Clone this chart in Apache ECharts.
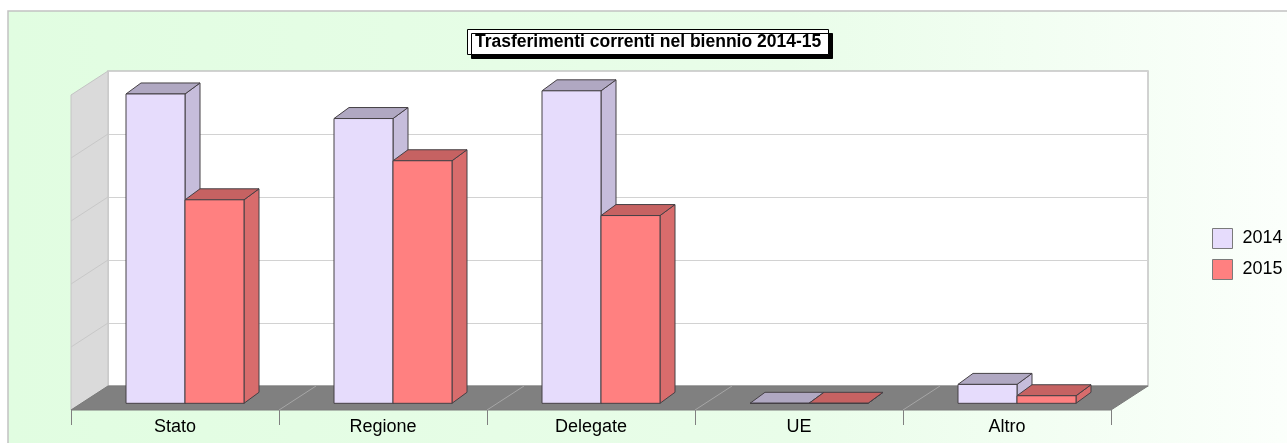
<!DOCTYPE html>
<html>
<head>
<meta charset="utf-8">
<title>Trasferimenti correnti nel biennio 2014-15</title>
<script src="https://cdn.jsdelivr.net/npm/echarts@6/dist/echarts.min.js"></script>
<style>
  html, body { margin: 0; padding: 0; background: #ffffff; }
  #chart { width: 1287px; height: 443px; }
</style>
</head>
<body>
<div id="chart"></div>
<script>
// Categories and yearly values (grid units)
const categories = ['Stato', 'Regione', 'Delegate', 'UE', 'Altro'];
const years = ['2014', '2015'];
const values2014 = [4.91, 4.52, 4.96, 0, 0.30];
const values2015 = [3.23, 3.85, 2.98, 0, 0.12];
const axisMax = 5;
const axisStep = 1;

// Face colours of the 3D bars: front, top, side
const faces = {
  '2014': { front: '#e6dcfc', top: '#b0a8c2', side: '#c6bddb' },
  '2015': { front: '#ff8080', top: '#c66262', side: '#d86c6c' }
};

// Depth of the scene (front floor edge to back wall) and of each bar
const SCENE_DEPTH = [37, -24];
const BAR_DEPTH = [15, -11];
const BAR_INSET = [10, -6.7];      // front face of the bars sits slightly behind the floor edge
const BAR_FRACTION = 59 / 208;     // bar width relative to category width

const chart = echarts.init(document.getElementById('chart'));

function renderFrame(params, api) {
  const cs = params.coordSys;
  const dx = SCENE_DEPTH[0], dy = SCENE_DEPTH[1];
  const x0 = cs.x, x1 = cs.x + cs.width;
  const yTop = cs.y, yBot = cs.y + cs.height;
  const children = [];
  // left side wall
  children.push({
    type: 'polygon',
    shape: { points: [[x0, yBot], [x0, yTop], [x0 + dx, yTop + dy], [x0 + dx, yBot + dy]] },
    style: { fill: '#dadada', stroke: '#c4c4c4', lineWidth: 1 }
  });
  // grid lines running across the side wall
  for (let v = axisStep; v < axisMax; v += axisStep) {
    const y = api.coord([0, v])[1];
    children.push({
      type: 'line',
      shape: { x1: x0, y1: y, x2: x0 + dx, y2: y + dy },
      style: { stroke: '#c8c8c8', lineWidth: 1 }
    });
  }
  // floor
  children.push({
    type: 'polygon',
    shape: { points: [[x0, yBot], [x0 + dx, yBot + dy], [x1 + dx, yBot + dy], [x1, yBot]] },
    style: { fill: '#808080', stroke: '#7a7a7a', lineWidth: 1 }
  });
  // category separators on the floor
  const band = cs.width / categories.length;
  for (let i = 1; i < categories.length; i++) {
    const xb = x0 + band * i;
    children.push({
      type: 'line',
      shape: { x1: xb, y1: yBot, x2: xb + dx, y2: yBot + dy },
      style: { stroke: '#a6a6a6', lineWidth: 1 }
    });
  }
  return { type: 'group', children: children };
}

function makeBarRenderer(yearIndex) {
  const col = faces[years[yearIndex]];
  return function (params, api) {
    const cat = api.value(0);
    const val = api.value(1);
    const base = api.coord([cat, 0]);
    const top = api.coord([cat, val]);
    const bw = api.size([1, 0])[0] * BAR_FRACTION;
    const xl = base[0] - bw + yearIndex * bw + BAR_INSET[0];
    const xr = xl + bw;
    const yb = base[1] + BAR_INSET[1];
    const yt = top[1] + BAR_INSET[1];
    const ddx = BAR_DEPTH[0], ddy = BAR_DEPTH[1];
    const stroke = { stroke: '#454045', lineWidth: 1, lineJoin: 'round' };
    return {
      type: 'group',
      children: [
        {
          type: 'polygon',
          shape: { points: [[xr, yt], [xr + ddx, yt + ddy], [xr + ddx, yb + ddy], [xr, yb]] },
          style: Object.assign({ fill: col.side }, stroke)
        },
        {
          type: 'polygon',
          shape: { points: [[xl, yt], [xr, yt], [xr + ddx, yt + ddy], [xl + ddx, yt + ddy]] },
          style: Object.assign({ fill: col.top }, stroke)
        },
        {
          type: 'polygon',
          shape: { points: [[xl, yb], [xl, yt], [xr, yt], [xr, yb]] },
          style: Object.assign({ fill: col.front }, stroke)
        }
      ]
    };
  };
}

const seriesValues = [values2014, values2015];

const option = {
  animation: false,
  textStyle: { fontFamily: '"Liberation Sans", Arial, sans-serif' },
  graphic: [{
    type: 'rect',
    z: -10,
    silent: true,
    shape: { x: 8, y: 11, width: 1300, height: 450 },
    style: {
      fill: {
        type: 'linear', x: 0, y: 0, x2: 1, y2: 0,
        colorStops: [
          { offset: 0, color: '#e1fde1' },
          { offset: 0.6, color: '#e9fde9' },
          { offset: 1, color: '#fcfffc' }
        ]
      },
      stroke: '#c2c2c2',
      lineWidth: 1.5
    }
  }],
  title: {
    text: 'Trasferimenti correnti nel biennio 2014-15',
    left: 467,
    top: 29,
    padding: [4, 8, 4, 8],
    backgroundColor: '#ffffff',
    borderColor: '#000000',
    borderWidth: 1,
    shadowColor: '#000000',
    shadowBlur: 0,
    shadowOffsetX: 4,
    shadowOffsetY: 4,
    textStyle: { fontSize: 17.5, fontWeight: 'bold', color: '#000000', fontFamily: '"Liberation Sans", Arial, sans-serif' }
  },
  legend: {
    orient: 'vertical',
    left: 1212,
    top: 228,
    padding: 0,
    itemWidth: 20,
    itemHeight: 20,
    itemGap: 10,
    icon: 'rect',
    selectedMode: false,
    textStyle: { fontSize: 18, color: '#000000', padding: [0, 0, 0, 5] },
    data: [
      { name: '2014', itemStyle: { color: faces['2014'].front, borderColor: '#7a7a7a', borderWidth: 1 } },
      { name: '2015', itemStyle: { color: faces['2015'].front, borderColor: '#7a7a7a', borderWidth: 1 } }
    ]
  },
  grid: [
    // back wall
    { left: 108, top: 71, width: 1040, height: 315, show: true, backgroundColor: '#ffffff', borderColor: '#c4c4c4', borderWidth: 1.5 },
    // front plane (floor edge)
    { left: 71, top: 95, width: 1040, height: 315, show: false }
  ],
  xAxis: [
    { gridIndex: 0, type: 'category', data: categories, show: false },
    {
      gridIndex: 1, type: 'category', data: categories,
      axisLine: { show: false },
      axisTick: { show: true, length: 15, lineStyle: { color: '#808080', width: 1 } },
      axisLabel: { fontSize: 18, color: '#000000', margin: 8 },
      splitLine: { show: false }
    }
  ],
  yAxis: [
    {
      gridIndex: 0, type: 'value', min: 0, max: axisMax, interval: axisStep,
      axisLabel: { show: false }, axisLine: { show: false }, axisTick: { show: false },
      splitLine: { show: true, lineStyle: { color: '#d2d2d2', width: 1 } }
    },
    { gridIndex: 1, type: 'value', min: 0, max: axisMax, interval: axisStep, show: false }
  ],
  series: [
    {
      name: 'frame',
      type: 'custom',
      xAxisIndex: 1, yAxisIndex: 1,
      silent: true,
      z: 1,
      renderItem: renderFrame,
      data: [[0, 0]]
    }
  ].concat(years.map(function (y, i) {
    return {
      name: y,
      type: 'custom',
      xAxisIndex: 1, yAxisIndex: 1,
      z: 2 + i,
      itemStyle: { color: faces[y].front },
      renderItem: makeBarRenderer(i),
      data: seriesValues[i].map(function (v, k) { return [k, v]; })
    };
  }))
};

chart.setOption(option);
</script>
</body>
</html>
